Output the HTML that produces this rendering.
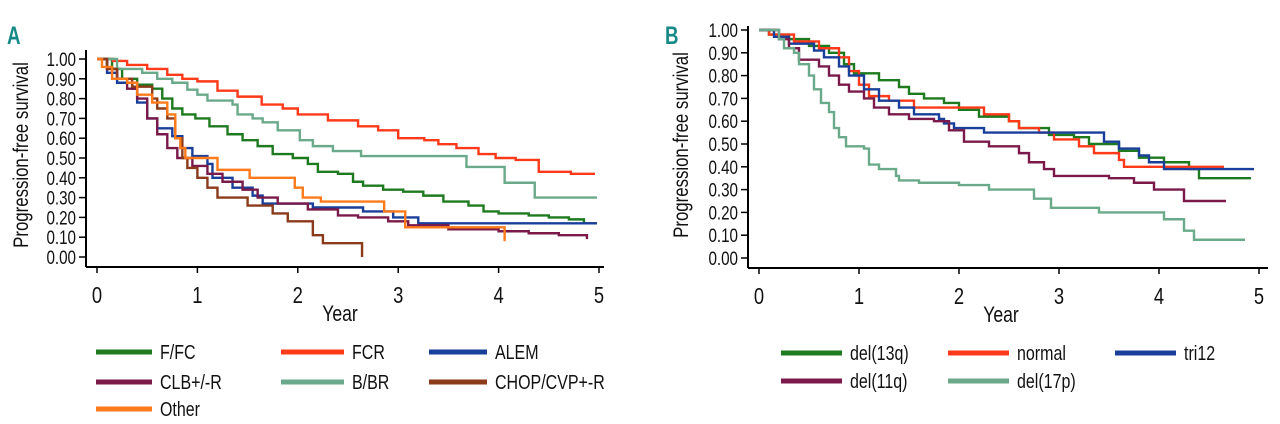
<!DOCTYPE html>
<html><head><meta charset="utf-8">
<style>
html,body{margin:0;padding:0;background:#fff;}
svg{display:block;}
text{font-family:"Liberation Sans",sans-serif;fill:#111;}
</style></head>
<body>
<svg id="chart" width="1280" height="424" viewBox="0 0 1280 424" xmlns="http://www.w3.org/2000/svg">
<text x="7" y="44" style="font-weight:bold;font-size:25px;fill:#178a87" transform="translate(7,44) scale(0.75,1) translate(-7,-44)">A</text>
<text x="665" y="44" style="font-weight:bold;font-size:25px;fill:#178a87" transform="translate(665,44) scale(0.75,1) translate(-665,-44)">B</text>
<g id="pA"></g>
<g id="pB"></g>
</svg>
<script>
const ticksY = ["0.00","0.10","0.20","0.30","0.40","0.50","0.60","0.70","0.80","0.90","1.00"];
const ticksX = ["0","1","2","3","4","5"];
// Panel A series
const namesA = ["F/FC","FCR","ALEM","CLB+/-R","B/BR","CHOP/CVP+-R","Other"];
const colorsA = ["#1e7a1e","#ff3a1a","#1a3f9a","#7a1a4a","#6aaa8a","#8b3a1a","#ff7a1a"];
const ffcT = [0,0.15,0.25,0.4,0.55,0.65,0.75,0.85,0.98,1.12,1.3,1.45,1.6,1.75,1.95,2.1,2.2,2.4,2.55,2.65,2.85,3.05,3.25,3.45,3.7,3.85,4.0,4.3,4.5,4.7,4.85,4.98];
const ffcV = [1.0,0.95,0.90,0.87,0.85,0.80,0.75,0.72,0.70,0.66,0.62,0.59,0.56,0.52,0.50,0.47,0.43,0.42,0.38,0.36,0.34,0.33,0.31,0.28,0.26,0.23,0.22,0.21,0.20,0.19,0.17,0.17];
const fcrT = [0,0.16,0.3,0.5,0.7,0.85,1.0,1.2,1.4,1.64,1.85,2.0,2.3,2.6,2.8,3.0,3.26,3.4,3.58,3.8,3.97,4.17,4.4,4.72,4.96];
const fcrV = [1.0,0.99,0.97,0.95,0.92,0.90,0.887,0.84,0.81,0.77,0.75,0.72,0.69,0.66,0.64,0.60,0.59,0.57,0.55,0.52,0.50,0.49,0.43,0.42,0.42];
const alemT = [0,0.1,0.2,0.35,0.4,0.5,0.6,0.75,0.85,0.95,1.1,1.15,1.35,1.55,1.65,2.15,2.65,2.95,3.2,4.98];
const alemV = [1.0,0.93,0.88,0.85,0.78,0.70,0.65,0.61,0.55,0.51,0.47,0.40,0.35,0.31,0.27,0.25,0.23,0.20,0.17,0.17];
const clbT = [0,0.1,0.2,0.3,0.4,0.5,0.6,0.7,0.8,0.95,1.1,1.25,1.45,1.6,1.8,2.1,2.4,2.6,2.9,3.1,3.5,4.0,4.3,4.6,4.88];
const clbV = [1.0,0.95,0.90,0.85,0.80,0.70,0.62,0.55,0.50,0.46,0.42,0.38,0.34,0.30,0.27,0.24,0.21,0.20,0.18,0.16,0.14,0.13,0.12,0.11,0.09];
const bbrT = [0,0.1,0.2,0.45,0.6,0.75,0.9,1.0,1.1,1.35,1.4,1.55,1.65,1.8,2.02,2.15,2.35,2.63,3.68,4.06,4.36,4.98];
const bbrV = [1.0,1.0,0.95,0.93,0.90,0.88,0.845,0.82,0.79,0.77,0.72,0.70,0.68,0.64,0.59,0.56,0.535,0.51,0.455,0.375,0.30,0.30];
const chopT = [0,0.1,0.2,0.35,0.55,0.6,0.7,0.78,0.85,0.9,1.0,1.1,1.2,1.5,1.75,1.9,2.15,2.25,2.64,2.64];
const chopV = [1.0,0.95,0.90,0.86,0.80,0.75,0.70,0.60,0.50,0.45,0.40,0.35,0.30,0.26,0.22,0.18,0.11,0.07,0.07,0.0];
const otherT = [0,0.05,0.15,0.3,0.4,0.55,0.7,0.78,0.83,0.88,1.2,1.52,1.97,2.05,2.23,2.86,3.07,4.05,4.06];
const otherV = [1.0,0.96,0.90,0.88,0.82,0.78,0.72,0.60,0.55,0.50,0.44,0.40,0.35,0.30,0.28,0.23,0.15,0.15,0.08];
const seriesA = [[ffcT,ffcV],[fcrT,fcrV],[alemT,alemV],[clbT,clbV],[bbrT,bbrV],[chopT,chopV],[otherT,otherV]];
// Panel B series
const namesB = ["del(13q)","normal","tri12","del(11q)","del(17p)"];
const colorsB = ["#1e7a1e","#ff3a1a","#1a3f9a","#7a1a4a","#6aaa8a"];
const d13T = [0,0.1,0.3,0.5,0.7,0.85,0.95,1.2,1.4,1.5,1.65,1.85,2.0,2.2,2.5,2.6,2.9,3.15,3.3,3.6,3.8,4.05,4.3,4.4,4.92];
const d13V = [1.0,0.98,0.96,0.93,0.90,0.85,0.81,0.78,0.75,0.72,0.70,0.68,0.65,0.62,0.60,0.57,0.54,0.53,0.50,0.47,0.44,0.42,0.39,0.35,0.35];
const normT = [0,0.1,0.35,0.6,0.8,0.9,1.0,1.1,1.3,1.55,2.2,2.25,2.5,2.6,2.8,2.95,3.2,3.35,3.6,3.65,4.65];
const normV = [1.0,0.98,0.95,0.92,0.88,0.82,0.76,0.71,0.69,0.66,0.66,0.63,0.60,0.57,0.55,0.52,0.49,0.46,0.43,0.40,0.40];
const tri12T = [0,0.15,0.3,0.55,0.65,0.8,0.9,1.05,1.2,1.4,1.55,1.8,1.85,1.95,2.25,3.2,3.45,3.6,3.8,3.9,4.05,4.95];
const tri12V = [1.0,0.97,0.94,0.91,0.88,0.84,0.80,0.74,0.69,0.66,0.63,0.61,0.59,0.57,0.55,0.55,0.51,0.48,0.45,0.42,0.39,0.39];
const d11T = [0,0.2,0.3,0.4,0.6,0.7,0.8,0.9,1.05,1.15,1.3,1.5,1.75,1.9,2.05,2.3,2.6,2.7,2.85,2.95,3.5,3.75,3.95,4.25,4.67];
const d11V = [1.0,0.96,0.92,0.87,0.84,0.80,0.76,0.73,0.70,0.66,0.63,0.61,0.60,0.56,0.51,0.49,0.46,0.42,0.39,0.36,0.35,0.33,0.30,0.25,0.25];
const d17T = [0,0.15,0.2,0.25,0.35,0.4,0.5,0.55,0.62,0.7,0.75,0.8,0.87,1.05,1.1,1.2,1.37,1.4,1.6,2.0,2.3,2.75,2.92,3.4,4.05,4.25,4.35,4.86];
const d17V = [1.0,1.0,0.96,0.92,0.90,0.85,0.80,0.74,0.68,0.64,0.57,0.53,0.49,0.48,0.41,0.39,0.36,0.34,0.33,0.32,0.30,0.26,0.22,0.20,0.17,0.12,0.08,0.08];
const seriesB = [[d13T,d13V],[normT,normV],[tri12T,tri12V],[d11T,d11V],[d17T,d17V]];

const NS="http://www.w3.org/2000/svg";
const SX=0.8;
function mk(tag,attrs,parent){const e=document.createElementNS(NS,tag);for(const k in attrs)e.setAttribute(k,attrs[k]);parent.appendChild(e);return e;}
function ntext(parent,x,y,str,size,anchor){
  const t=mk('text',{x:x,y:y,'text-anchor':anchor||'start','font-size':size,transform:`translate(${x},${y}) scale(${SX},1) translate(${-x},${-y})`},parent);
  t.textContent=str;return t;
}

function panel(g,cfg,series,names,colors,legend){
  const xs=t=>cfg.x0+t*cfg.xStep, ys=v=>cfg.y0-v*(cfg.y0-cfg.y1);
  const ya=mk('line',{x1:cfg.ax,y1:cfg.axTop,x2:cfg.ax,y2:cfg.axY,stroke:'#000','stroke-width':2},g);
  
  
  const xa=mk('line',{x1:cfg.ax,y1:cfg.axY,x2:cfg.axRight,y2:cfg.axY,stroke:'#000','stroke-width':2},g);
  
  
  ticksY.forEach(lab=>{
    const y=ys(parseFloat(lab));
    mk('line',{x1:cfg.ax-7,y1:y,x2:cfg.ax,y2:y,stroke:'#000','stroke-width':1.5},g);
    const t=ntext(g,cfg.ax-10,y+7,lab,19,'end');
    
    
  });
  ticksX.forEach(lab=>{
    const x=xs(parseFloat(lab));
    mk('line',{x1:x,y1:cfg.axY,x2:x,y2:cfg.axY+6,stroke:'#000','stroke-width':1.5},g);
    const t=ntext(g,x,cfg.axY+36,lab,23,'middle');
    
    
  });
  const xt=ntext(g,(xs(0)+xs(5))/2-8,cfg.axY+54,'Year',22,'middle');
  
  
  const yt=mk('text',{x:0,y:0,'text-anchor':'middle','font-size':21,transform:`translate(${cfg.ytx},${cfg.yty}) rotate(-90) scale(${SX},1)`},g);
  yt.textContent='Progression-free survival';
  
  
  series.forEach((s,i)=>{
    const [T,V]=s;let d=`M${xs(T[0])},${ys(V[0])}`;
    for(let k=1;k<T.length;k++){d+=` H${xs(T[k])} V${ys(V[k])}`;}
    const p=mk('path',{d:d,fill:'none',stroke:colors[i],'stroke-width':2.4},g);
    
    
  });
  names.forEach((n,i)=>{
    const [lx,tx,ly]=legend[i];
    const lg=mk('g',{},g);
    
    
    mk('line',{x1:lx,y1:ly,x2:tx-8,y2:ly,stroke:colors[i],'stroke-width':5},lg);
    ntext(lg,tx,ly+7,n,20,'start');
  });
}
panel(document.getElementById('pA'),{x0:97,xStep:100.4,y0:257,y1:59,ax:86,axTop:50,axY:267,axRight:604,ytx:28,yty:155},
  seriesA,namesA,colorsA,
  [[96,160,352],[281,352,352],[429,495,352],[96,160,382],[281,352,382],[429,495,382],[96,160,409]]);
panel(document.getElementById('pB'),{x0:759,xStep:100,y0:258,y1:30,ax:748,axTop:26,axY:268,axRight:1268,ytx:688,yty:145},
  seriesB,namesB,colorsB,
  [[781,850,353],[948,1017,353],[1115,1184,353],[781,850,381],[948,1017,381]]);
</script>
</body></html>
